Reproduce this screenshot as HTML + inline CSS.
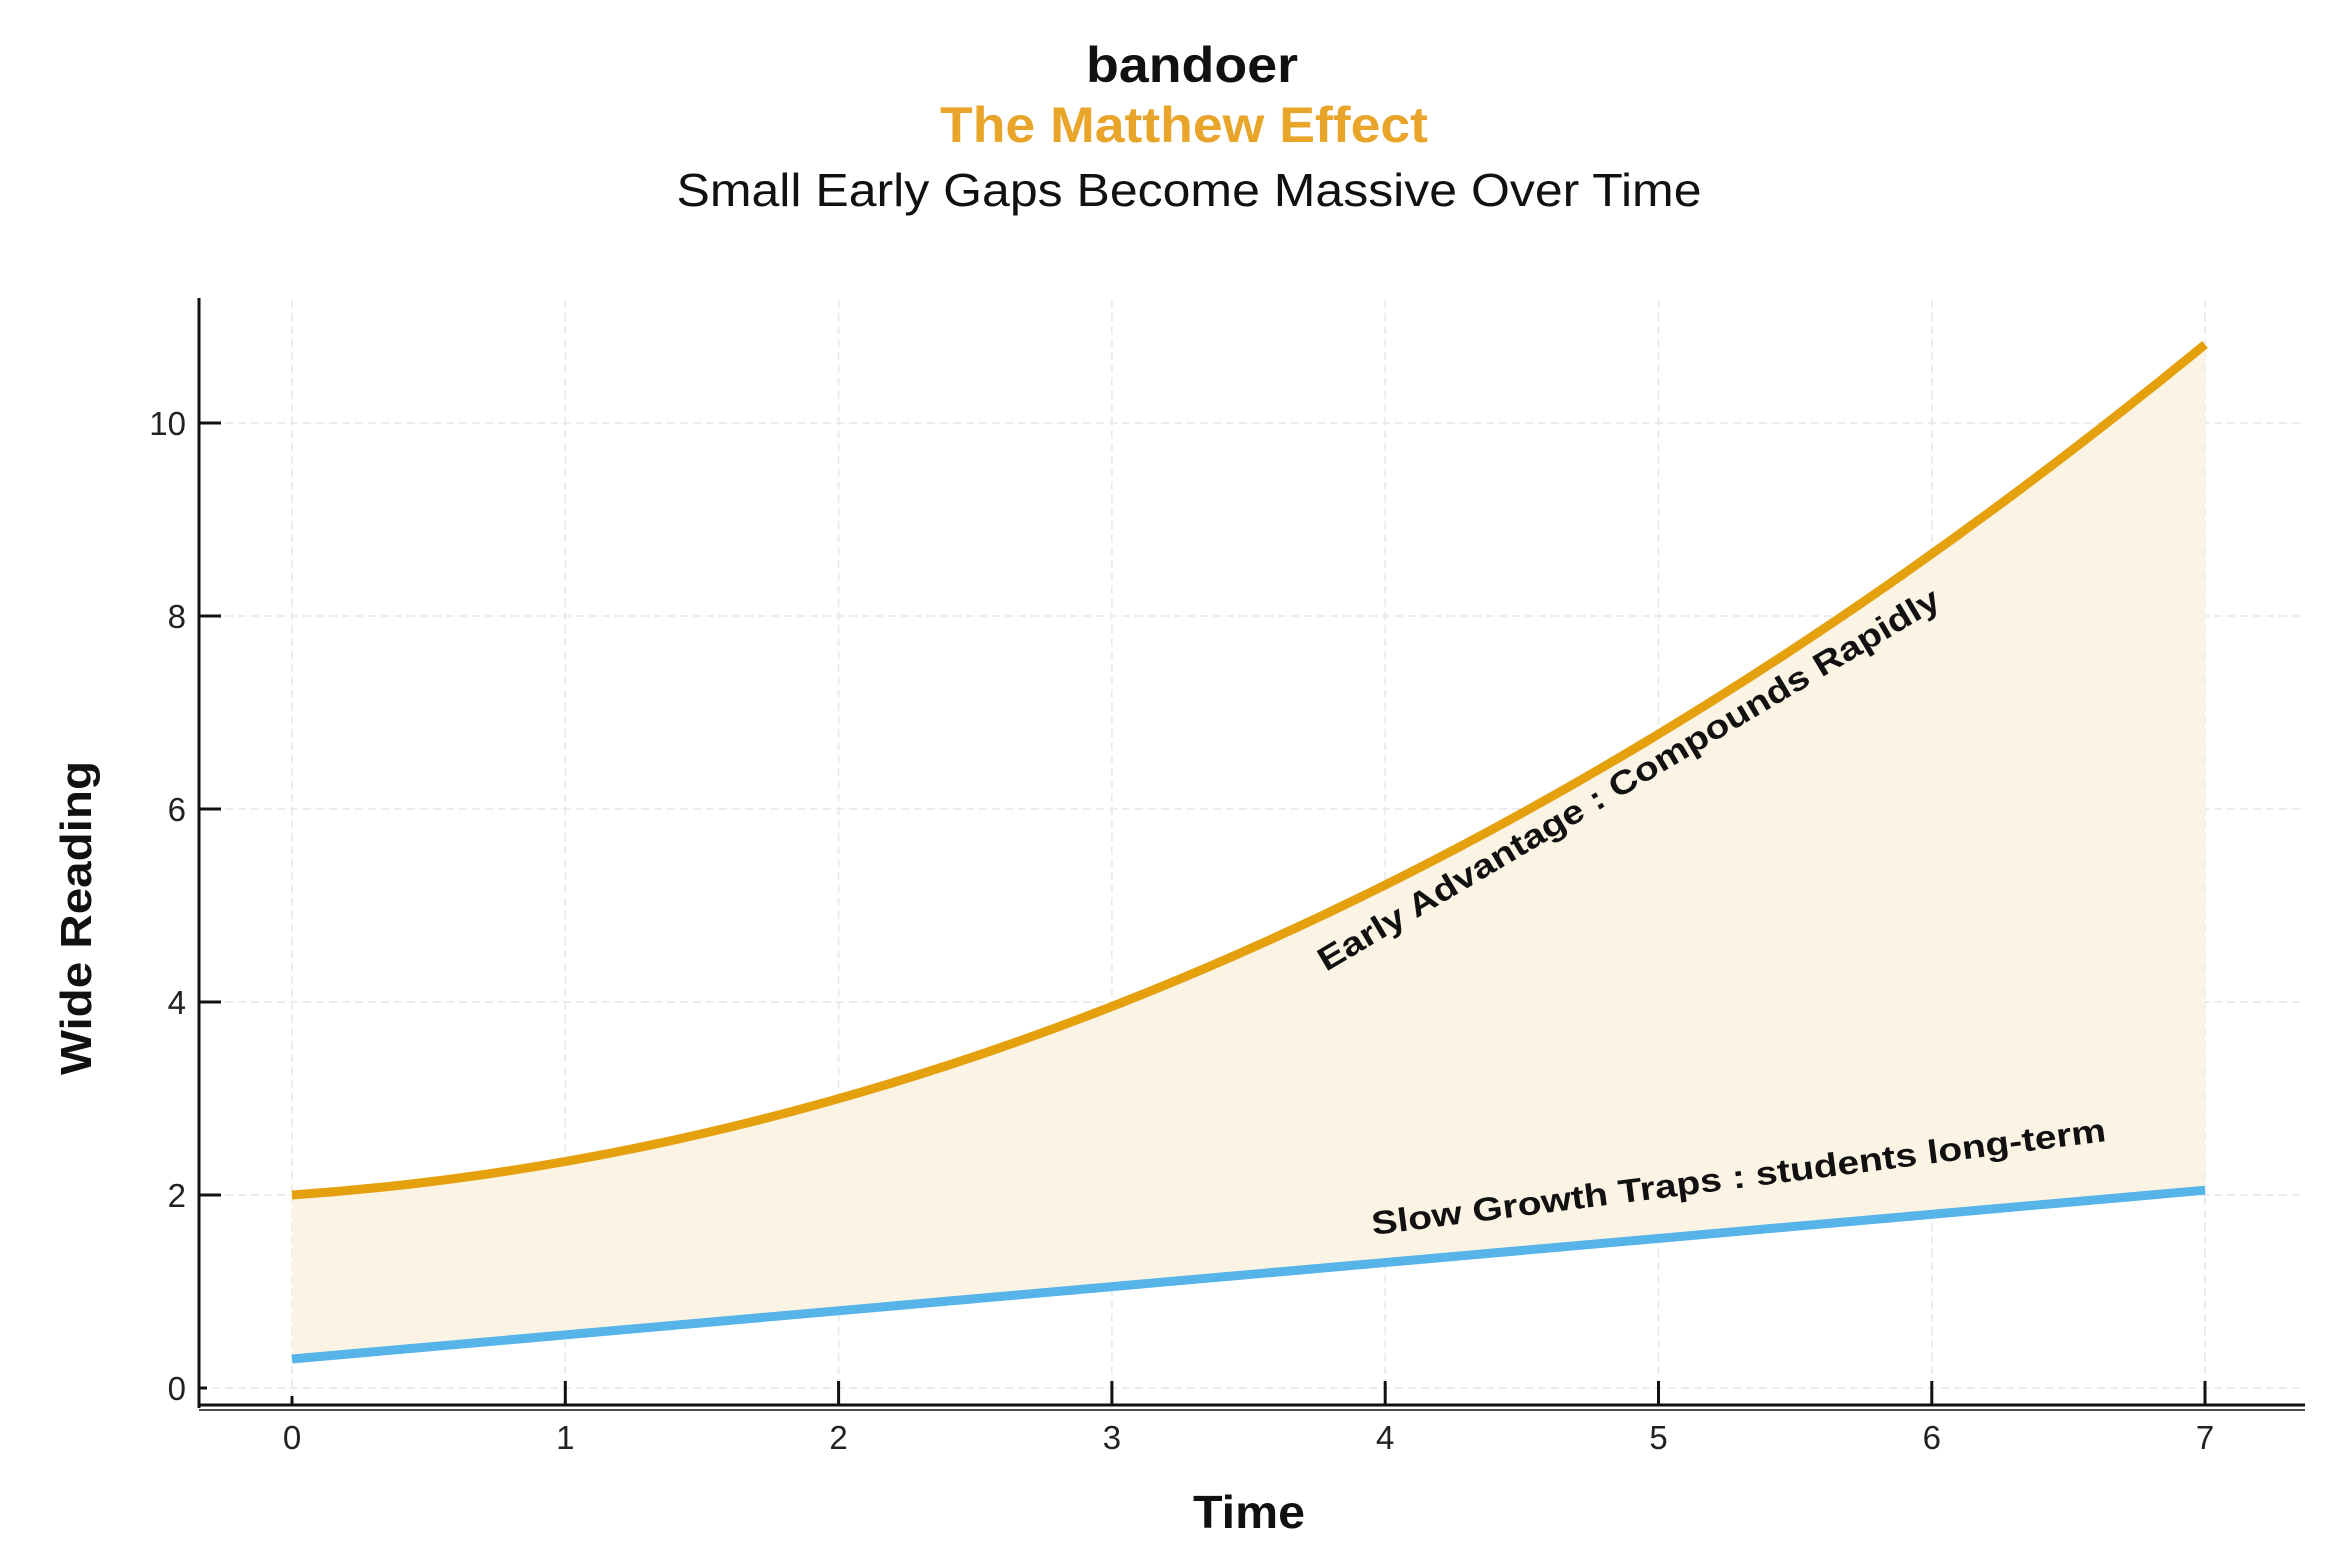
<!DOCTYPE html>
<html><head><meta charset="utf-8"><style>
html,body{margin:0;padding:0;background:#fff;}
svg{display:block;}
text{font-family:"Liberation Sans","DejaVu Sans",sans-serif;}
</style></head><body>
<svg width="2344" height="1562" viewBox="0 0 2344 1562" xmlns="http://www.w3.org/2000/svg">
<rect width="2344" height="1562" fill="#fff"/>
<text x="1192" y="82" text-anchor="middle" font-size="50" font-weight="bold" fill="#111" textLength="212" lengthAdjust="spacingAndGlyphs">bandoer</text>
<text x="1184" y="142" text-anchor="middle" font-size="50" font-weight="bold" fill="#E8A52A" textLength="488" lengthAdjust="spacingAndGlyphs">The Matthew Effect</text>
<text x="1189" y="206" text-anchor="middle" font-size="46" fill="#111" textLength="1025" lengthAdjust="spacingAndGlyphs">Small Early Gaps Become Massive Over Time</text>
<g stroke="#e6e6e6" stroke-width="1.5" stroke-dasharray="8,5">
<line x1="199" x2="2303" y1="1388" y2="1388"/><line x1="199" x2="2303" y1="1195" y2="1195"/><line x1="199" x2="2303" y1="1002" y2="1002"/><line x1="199" x2="2303" y1="809" y2="809"/><line x1="199" x2="2303" y1="616" y2="616"/><line x1="199" x2="2303" y1="423" y2="423"/>
<line y1="300" y2="1404" x1="292" x2="292"/><line y1="300" y2="1404" x1="565.3" x2="565.3"/><line y1="300" y2="1404" x1="838.6" x2="838.6"/><line y1="300" y2="1404" x1="1111.9" x2="1111.9"/><line y1="300" y2="1404" x1="1385.2" x2="1385.2"/><line y1="300" y2="1404" x1="1658.5" x2="1658.5"/><line y1="300" y2="1404" x1="1931.8" x2="1931.8"/><line y1="300" y2="1404" x1="2205" x2="2205"/>
</g>
<path fill="#FBF3E4" d="M292,1195 Q1248.5,1129.1 2205,344.5 L2205,1190.2 L292,1359 Z"/>
<path fill="none" stroke="#E5A00D" stroke-width="9" d="M292,1195 Q1248.5,1129.1 2205,344.5"/>
<line x1="292" y1="1359" x2="2205" y2="1190.2" stroke="#56B4E9" stroke-width="9"/>
<g stroke="#111" stroke-width="3">
<line x1="199" y1="298" x2="199" y2="1408"/>
<line x1="199" y1="1405" x2="2305" y2="1405"/>
<line x1="199" y1="1410" x2="2305" y2="1410" stroke-width="1.5"/>
<line x1="292" y1="1396" x2="292" y2="1405"/><line x1="565.3" y1="1381" x2="565.3" y2="1405"/><line x1="838.6" y1="1381" x2="838.6" y2="1405"/><line x1="1111.9" y1="1381" x2="1111.9" y2="1405"/><line x1="1385.2" y1="1381" x2="1385.2" y2="1405"/><line x1="1658.5" y1="1381" x2="1658.5" y2="1405"/><line x1="1931.8" y1="1381" x2="1931.8" y2="1405"/><line x1="2205" y1="1381" x2="2205" y2="1405"/>
<line x1="199" y1="1388" x2="207" y2="1388"/><line x1="199" y1="1195" x2="221" y2="1195"/><line x1="199" y1="1002" x2="221" y2="1002"/><line x1="199" y1="809" x2="221" y2="809"/><line x1="199" y1="616" x2="221" y2="616"/><line x1="199" y1="423" x2="221" y2="423"/>
</g>
<g font-size="33" fill="#222" text-anchor="middle">
<text x="292" y="1449">0</text><text x="565.3" y="1449">1</text><text x="838.6" y="1449">2</text><text x="1111.9" y="1449">3</text><text x="1385.2" y="1449">4</text><text x="1658.5" y="1449">5</text><text x="1931.8" y="1449">6</text><text x="2205" y="1449">7</text>
</g>
<g font-size="33" fill="#222" text-anchor="end">
<text x="186" y="1400">0</text><text x="186" y="1207">2</text><text x="186" y="1014">4</text><text x="186" y="821">6</text><text x="186" y="628">8</text><text x="186" y="435">10</text>
</g>
<text x="1249" y="1528" text-anchor="middle" font-size="46" font-weight="bold" fill="#111" textLength="112" lengthAdjust="spacingAndGlyphs">Time</text>
<text transform="translate(91,918) rotate(-90)" text-anchor="middle" font-size="44" font-weight="bold" fill="#111" textLength="314" lengthAdjust="spacingAndGlyphs">Wide Reading</text>
<text transform="translate(1326,972) rotate(-30.7)" font-size="33" font-weight="bold" fill="#111" textLength="717" lengthAdjust="spacingAndGlyphs">Early Advantage : Compounds Rapidly</text>
<text transform="translate(1373,1235) rotate(-7.3)" font-size="33" font-weight="bold" fill="#111" textLength="740" lengthAdjust="spacingAndGlyphs">Slow Growth Traps : students long-term</text>
</svg>
</body></html>
